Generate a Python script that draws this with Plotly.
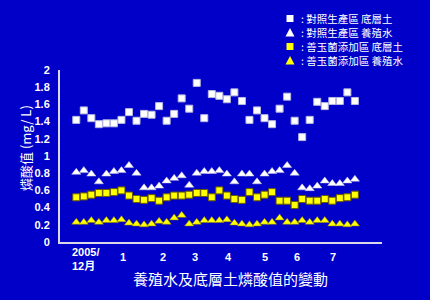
import plotly.graph_objects as go

# ---- data (38 sampling points, Dec 2005 - Jul 2006) ----
ctrl_soil = [1.42, 1.53, 1.44, 1.37, 1.38, 1.38, 1.42, 1.51, 1.41, 1.49,
             1.48, 1.58, 1.41, 1.49, 1.67, 1.55, 1.85, 1.44, 1.72, 1.70,
             1.66, 1.74, 1.64, 1.42, 1.53, 1.44, 1.37, 1.55, 1.69, 1.41,
             1.22, 1.42, 1.63, 1.58, 1.64, 1.64, 1.74, 1.64]
ctrl_water = [0.81, 0.83, 0.79, 0.70, 0.79, 0.82, 0.83, 0.89, 0.80, 0.63,
              0.63, 0.65, 0.71, 0.74, 0.77, 0.66, 0.80, 0.82, 0.82, 0.83,
              0.79, 0.70, 0.79, 0.79, 0.70, 0.79, 0.82, 0.83, 0.89, 0.80,
              0.63, 0.62, 0.65, 0.71, 0.68, 0.68, 0.71, 0.73]
treat_soil = [0.52, 0.53, 0.55, 0.57, 0.57, 0.58, 0.60, 0.54, 0.50, 0.49,
              0.51, 0.48, 0.52, 0.54, 0.54, 0.55, 0.57, 0.57, 0.52, 0.60,
              0.54, 0.50, 0.49, 0.58, 0.52, 0.55, 0.58, 0.48, 0.48, 0.43,
              0.50, 0.48, 0.48, 0.50, 0.48, 0.51, 0.52, 0.55]
treat_water = [0.23, 0.23, 0.25, 0.23, 0.25, 0.25, 0.26, 0.22, 0.21, 0.20,
               0.21, 0.24, 0.23, 0.28, 0.31, 0.21, 0.23, 0.25, 0.25, 0.25,
               0.26, 0.22, 0.21, 0.20, 0.21, 0.23, 0.23, 0.28, 0.23, 0.23,
               0.25, 0.23, 0.25, 0.25, 0.21, 0.21, 0.20, 0.21]
sample_idx = list(range(len(ctrl_soil)))

month_labels = ["1", "2", "3", "4", "5", "6", "7"]
month_pos = [6.24, 11.55, 15.76, 20.28, 25.06, 29.27, 34.05]
first_label = "2005/<br>12月"
first_label_pos = -0.83

y_ticks = [0, 0.2, 0.4, 0.6, 0.8, 1, 1.2, 1.4, 1.6, 1.8, 2]
y_ticktext = ["0", "0.2", "0.4", "0.6", "0.8", "1", "1.2", "1.4", "1.6", "1.8", "2"]

legend_names = [": 對照生產區 底層土", ": 對照生產區 養殖水",
                ": 善玉菌添加區 底層土", ": 善玉菌添加區 養殖水"]

BG = "rgb(0,0,200)"
NUM_FONT = "Liberation Sans, Arial, sans-serif"
CJK_FONT = "Liberation Sans, Noto Sans CJK TC, sans-serif"

fig = go.Figure()
fig.add_trace(go.Scatter(x=sample_idx, y=ctrl_soil, mode="markers", name=legend_names[0],
                         marker=dict(symbol="square", size=7, color="white",
                                     line=dict(color="#b8b8e0", width=1))))
fig.add_trace(go.Scatter(x=sample_idx, y=ctrl_water, mode="markers", name=legend_names[1],
                         marker=dict(symbol="triangle-up", size=8, color="white",
                                     line=dict(color="#c0c0e8", width=0.5))))
fig.add_trace(go.Scatter(x=sample_idx, y=treat_soil, mode="markers", name=legend_names[2],
                         marker=dict(symbol="square", size=7, color="#ffff00",
                                     line=dict(color="#6a5a00", width=1))))
fig.add_trace(go.Scatter(x=sample_idx, y=treat_water, mode="markers", name=legend_names[3],
                         marker=dict(symbol="triangle-up", size=8, color="#ffff00",
                                     line=dict(color="#8a7a00", width=0.5))))

# plot area in pixels: x 60..382, y 70..242
L, R, T, B = 60, 48, 70, 58
W, H = 430, 300
pw, ph = W - L - R, H - T - B

def px_x(p):
    return (p - L) / pw

def px_y(p):
    return (H - B - p) / ph

annotations = []
# x tick labels
annotations.append(dict(x=first_label_pos, y=px_y(259), xref="x", yref="paper",
                        text="<b>" + first_label + "</b>", showarrow=False,
                        xanchor="left", yanchor="middle", align="left",
                        font=dict(family=CJK_FONT, size=11, color="white")))
for lab, pos in zip(month_labels, month_pos):
    annotations.append(dict(x=pos, y=px_y(257), xref="x", yref="paper",
                            text="<b>" + lab + "</b>", showarrow=False,
                            xanchor="center", yanchor="middle",
                            font=dict(family=NUM_FONT, size=11, color="white")))
# bottom title
annotations.append(dict(x=px_x(231), y=px_y(278), xref="paper", yref="paper",
                        text="養殖水及底層土燐酸值的變動", showarrow=False,
                        xanchor="center", yanchor="middle",
                        font=dict(family="Noto Sans CJK TC, sans-serif", size=15, color="white")))
# y title
annotations.append(dict(x=px_x(25), y=px_y(148), xref="paper", yref="paper",
                        text="燐酸值 (mg/ L)", showarrow=False, textangle=-90,
                        xanchor="center", yanchor="middle",
                        font=dict(family="Noto Sans CJK TC, sans-serif", size=13, color="white")))

# legend (drawn manually)
legend_rows = [18.5, 32.5, 46.5, 60.5]
legend_colors = ["white", "white", "#ffff00", "#ffff00"]
legend_shapes_kind = ["square", "tri", "square", "tri"]
shapes = []
for name, row, col, kind in zip(legend_names, legend_rows, legend_colors, legend_shapes_kind):
    cx = 290
    if kind == "square":
        shapes.append(dict(type="rect", xref="paper", yref="paper",
                           x0=px_x(cx - 3.5), x1=px_x(cx + 3.5),
                           y0=px_y(row + 3.5), y1=px_y(row - 3.5),
                           fillcolor=col, line=dict(width=0)))
    else:
        path = "M {:.4f},{:.4f} L {:.4f},{:.4f} L {:.4f},{:.4f} Z".format(
            px_x(cx - 4.5), px_y(row + 4), px_x(cx + 4.5), px_y(row + 4),
            px_x(cx), px_y(row - 4.5))
        shapes.append(dict(type="path", xref="paper", yref="paper", path=path,
                           fillcolor=col, line=dict(width=0)))
    annotations.append(dict(x=px_x(300), y=px_y(row), xref="paper", yref="paper",
                            text=name, showarrow=False, xanchor="left", yanchor="middle",
                            height=11, borderpad=0,
                            font=dict(family="Noto Sans CJK TC, sans-serif", size=10.5, color="white")))

fig.update_layout(
    width=W, height=H,
    margin=dict(l=L, r=R, t=T, b=B, pad=0),
    paper_bgcolor=BG, plot_bgcolor=BG,
    showlegend=False,
    annotations=annotations,
    shapes=shapes,
    xaxis=dict(range=[-2.16, 40.6], showgrid=False, zeroline=False,
               showticklabels=False, ticks="",
               showline=True, linecolor="#d8d8e8", linewidth=2),
    yaxis=dict(range=[0, 2.0], showgrid=False, zeroline=False,
               tickvals=y_ticks, ticktext=["<b>" + t + "</b>" for t in y_ticktext],
               ticks="", ticklabelstandoff=6,
               tickfont=dict(family=NUM_FONT, size=11, color="white"),
               showline=True, linecolor="#d8d8e8", linewidth=2),
)

fig.write_html("out.html")
